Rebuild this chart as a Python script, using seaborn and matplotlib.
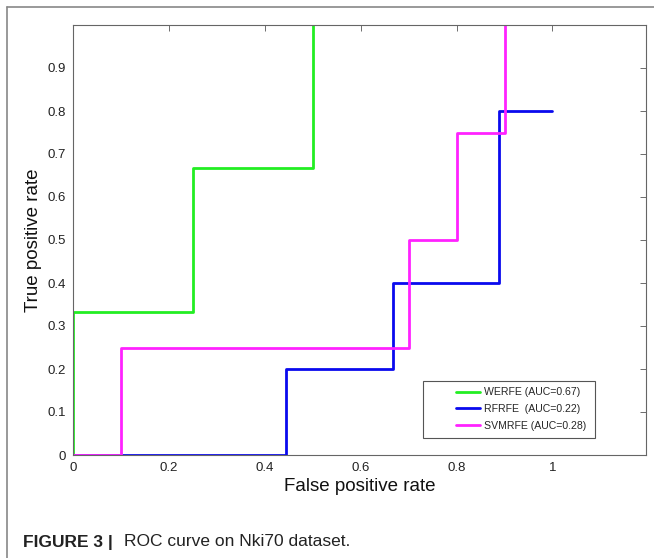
import numpy as np
import matplotlib.pyplot as plt
import seaborn as sns
from matplotlib.patches import Rectangle
sns.set_theme(style="white")
plt.rcParams['font.family'] = ['Liberation Sans', 'DejaVu Sans']

# ROC step points
werfe_fpr = [0, 0, 0.25, 0.25, 0.5, 0.5]
werfe_tpr = [0, 0.333, 0.333, 0.667, 0.667, 1.0]
rfrfe_fpr = [0, 0.444, 0.444, 0.667, 0.667, 0.889, 0.889, 1.0]
rfrfe_tpr = [0, 0, 0.2, 0.2, 0.4, 0.4, 0.8, 0.8]
svm_fpr = [0, 0.1, 0.1, 0.7, 0.7, 0.8, 0.8, 0.9, 0.9]
svm_tpr = [0, 0, 0.25, 0.25, 0.5, 0.5, 0.75, 0.75, 1.0]
labels = ['WERFE (AUC=0.67)', 'RFRFE  (AUC=0.22)', 'SVMRFE (AUC=0.28)']
colors = ['#22ee22', '#0a0aee', '#ff22ff']

W, H = 654, 558
fig = plt.figure(figsize=(W/100, H/100), dpi=100)
ax = fig.add_axes([73/W, 1-455/H, (646-73)/W, (455-25)/H])

sns.lineplot(x=werfe_fpr, y=werfe_tpr, sort=False, estimator=None, color=colors[0], lw=2, label=labels[0], ax=ax)
sns.lineplot(x=rfrfe_fpr, y=rfrfe_tpr, sort=False, estimator=None, color=colors[1], lw=2, label=labels[1], ax=ax)
sns.lineplot(x=svm_fpr, y=svm_tpr, sort=False, estimator=None, color=colors[2], lw=2, label=labels[2], ax=ax)

ax.set_xlim(0, 1.195)
ax.set_ylim(0, 1.0)
ax.set_xticks([0, 0.2, 0.4, 0.6, 0.8, 1])
ax.set_xticklabels(['0', '0.2', '0.4', '0.6', '0.8', '1'])
ax.set_yticks(np.arange(0, 1.0, 0.1))
ax.set_yticklabels(['0'] + [f'{v:.1f}' for v in np.arange(0.1, 1.0, 0.1)])
ax.tick_params(direction='in', length=4, width=0.6, color='#555555',
               labelsize=9.5, labelcolor='#222222', top=True, right=True, pad=5)
for s in ax.spines.values():
    s.set_color('#666666')
    s.set_linewidth(0.8)
ax.set_xlabel('False positive rate', fontsize=13.5, color='#111111', labelpad=3)
ax.set_ylabel('True positive rate', fontsize=13.5, color='#111111', labelpad=4)

# legend box drawn separately (MATLAB-like padding)
ax.add_patch(Rectangle((423/W, 1-438/H), (595-423)/W, (438-381)/H,
                       transform=fig.transFigure, fill=True, facecolor='white',
                       edgecolor='#555555', lw=0.8, zorder=4, clip_on=False))
leg = ax.legend(loc='center', bbox_to_anchor=(521/W, 1-409/H),
                bbox_transform=fig.transFigure, fontsize=7.6, frameon=False,
                handlelength=2.3, handletextpad=0.4, borderpad=0, labelspacing=0.62)
leg.set_zorder(6)

# outer figure frame (top and left)
fig.add_artist(plt.Line2D([7/W, 1], [1-7/H, 1-7/H], color='#888888', lw=1.2))
fig.add_artist(plt.Line2D([7/W, 7/W], [1-7/H, 0], color='#888888', lw=1.2))

fig.text(23/W, 1-542/H, 'FIGURE 3 |', fontsize=12.5, fontweight='bold',
         color='#222222', va='center')
fig.text(124/W, 1-542/H, 'ROC curve on Nki70 dataset.', fontsize=12.5,
         color='#222222', va='center')

fig.savefig('out.png', dpi=100)
